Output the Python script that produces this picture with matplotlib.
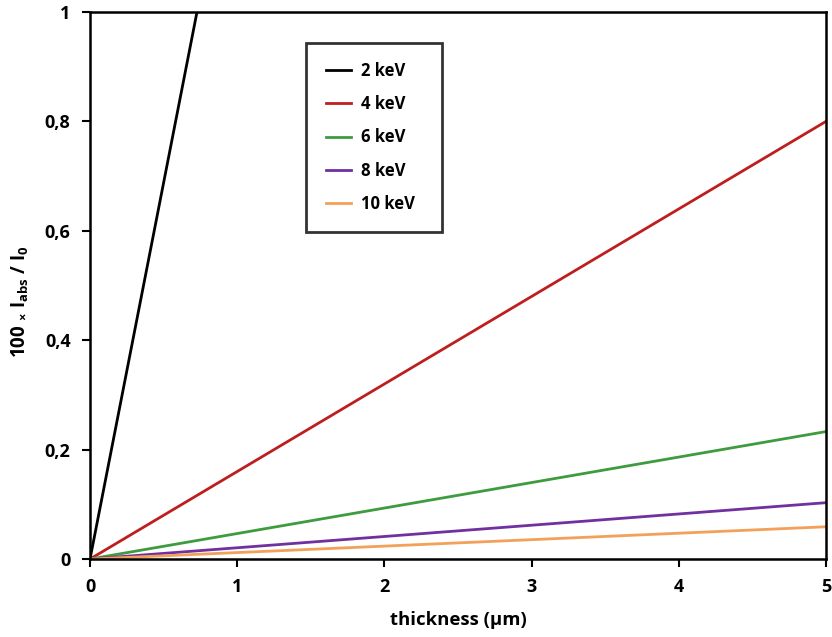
import matplotlib
matplotlib.use("Agg")
import matplotlib.pyplot as plt
from matplotlib.ticker import FuncFormatter

plt.rcParams['font.family'] = ['Open Sans', 'DejaVu Sans']
plt.rcParams['font.weight'] = 'bold'
plt.rcParams['mathtext.fontset'] = 'custom'
plt.rcParams['mathtext.bf'] = 'Open Sans:bold'
plt.rcParams['mathtext.rm'] = 'Open Sans:bold'
plt.rcParams['mathtext.default'] = 'bf'

# thickness in µm and absorbed fraction (x100) at each end
thickness = [0, 5]
labels = ['2 keV', '4 keV', '6 keV', '8 keV', '10 keV']
abs_2kev = [0, 6.88]
abs_4kev = [0, 0.80]
abs_6kev = [0, 0.233]
abs_8kev = [0, 0.103]
abs_10kev = [0, 0.059]
colors = ['#000000', '#BE1E1E', '#3E9B3E', '#7030A0', '#F2A05A']

fig = plt.figure(figsize=(8.32, 6.37), dpi=100)
ax = fig.add_axes([0.1082, 0.1224, 0.8846, 0.8588])

for vals, lab, c in zip([abs_2kev, abs_4kev, abs_6kev, abs_8kev, abs_10kev], labels, colors):
    ax.plot(thickness, vals, color=c, lw=2, label=lab + '  ')

ax.set_xlim(0, 5)
ax.set_ylim(0, 1)
ax.set_xticks([0, 1, 2, 3, 4, 5])
ax.set_yticks([0, 0.2, 0.4, 0.6, 0.8, 1])
ax.yaxis.set_major_formatter(FuncFormatter(lambda v, p: ('%g' % round(v, 1)).replace('.', ',')))
ax.tick_params(direction='out', length=6, width=1.5, labelsize=13, pad=8)
for s in ax.spines.values():
    s.set_linewidth(1.8)

ax.set_xlabel('thickness (µm)', fontsize=13.3, fontweight='bold')
ax.xaxis.set_label_coords(0.5, -0.095)
ax.set_ylabel(r'100 $_{\times}$ I$_{abs}$ / I$_{0}$', fontsize=13.5, fontweight='bold')
ax.yaxis.set_label_coords(-0.08, 0.47)

leg = ax.legend(loc='upper left', bbox_to_anchor=(0.294, 0.944), fontsize=12,
                frameon=True, fancybox=False, handlelength=1.5, handletextpad=0.6,
                labelspacing=0.92, borderpad=1.15, borderaxespad=0)
leg.get_frame().set_edgecolor('black')
leg.get_frame().set_linewidth(2)

fig.savefig('out.png', dpi=100)
